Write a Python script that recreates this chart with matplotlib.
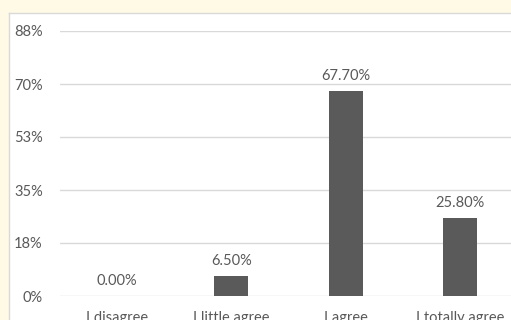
import matplotlib.pyplot as plt

# Donnees du graphique
categories = ['I disagree', 'I little agree', 'I agree', 'I totally agree']
valeurs = [0.0, 6.5, 67.7, 25.8]
etiquettes = ['0.00%', '6.50%', '67.70%', '25.80%']
graduations = [0, 17.5, 35, 52.5, 70, 87.5]
etiquettes_y = ['0%', '18%', '35%', '53%', '70%', '88%']

gris_texte = '#595959'
gris_grille = '#D9D9D9'
plt.rcParams['font.family'] = ['Lato', 'DejaVu Sans']

fig = plt.figure(figsize=(5.11, 3.20), dpi=100)
fig.patch.set_facecolor('#FFFAE6')

# Cadre blanc du graphique (depasse a droite et en bas)
fond = fig.add_axes([9 / 511, -0.1, 1.1, 1.1 - 13 / 320], zorder=-1)
fond.set_xticks([])
fond.set_yticks([])
fond.set_facecolor('white')
for s in fond.spines.values():
    s.set_color(gris_grille)
    s.set_linewidth(1.0)

ax = fig.add_axes([59.5 / 511, 24 / 320, 458 / 511, 265 / 320])
ax.set_facecolor('none')

x = range(len(categories))
ax.bar(x, valeurs, width=0.3, color='#5A5A5A', zorder=3)

for i, (v, txt) in enumerate(zip(valeurs, etiquettes)):
    ax.annotate(txt, (i, v), xytext=(0, 6), textcoords='offset points',
                ha='center', va='bottom', fontsize=10.5, color=gris_texte)

ax.set_xlim(-0.5, len(categories) - 0.5)
ax.set_ylim(0, 87.5)
ax.set_xticks(list(x))
ax.set_xticklabels(categories)
ax.set_yticks(graduations)
ax.set_yticklabels(etiquettes_y)
ax.tick_params(axis='both', length=0, labelsize=10.5, colors=gris_texte)
ax.tick_params(axis='x', pad=11)
ax.tick_params(axis='y', pad=12)

ax.grid(axis='y', color=gris_grille, linewidth=1.0, zorder=0)
for s in ax.spines.values():
    s.set_visible(False)

plt.savefig('out.png', dpi=100, facecolor=fig.get_facecolor())
